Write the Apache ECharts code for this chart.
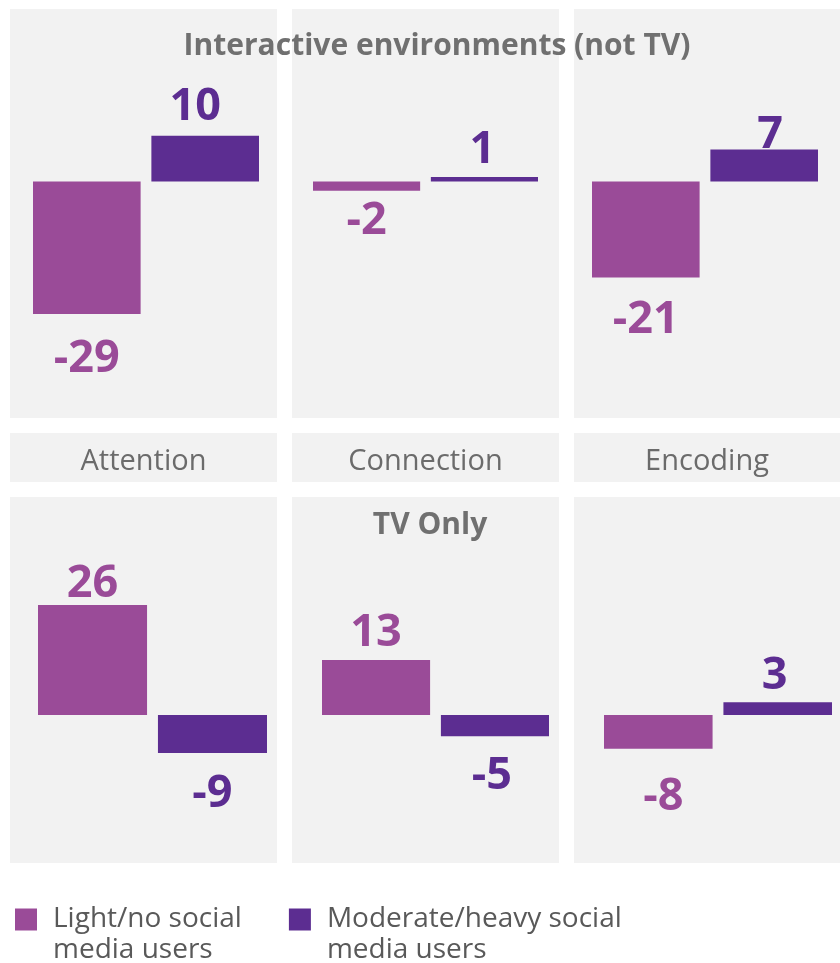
<!DOCTYPE html>
<html>
<head>
<meta charset="utf-8">
<script src="https://cdn.jsdelivr.net/npm/echarts@6/dist/echarts.min.js"></script>
<style>
html,body{margin:0;padding:0;background:#fff;}
#chart{width:840px;height:963px;}
</style>
</head>
<body>
<div id="chart"></div>
<script>
// ---- data ----
const categories = ['Attention', 'Connection', 'Encoding'];
const rowTitles = ['Interactive environments (not TV)', 'TV Only'];
const seriesNames = ['Light/no social media users', 'Moderate/heavy social media users'];
const legendLines = [['Light/no social', 'media users'], ['Moderate/heavy social', 'media users']];
const lightInteractive = [-29, -2, -21];
const moderateInteractive = [10, 1, 7];
const lightTV = [26, 13, -8];
const moderateTV = [-9, -5, 3];

// ---- styling / layout ----
const PINK = '#9a4b98';
const PURPLE = '#5c2d91';
const PANEL = '#f2f2f2';
const FONT = "'Open Sans', 'Noto Sans', sans-serif";
const panelX = [[10, 277], [292, 559], [574, 840]];
const rowY = [[9, 418], [497, 863]];
const stripY = [433, 482];
const yRange = [{ min: -51.75, max: 37.75 }, { min: -34.99, max: 51.54 }];
const gridX = [
  [[33, 226], [313, 225], [592, 226]],
  [[38, 229], [322, 227], [604, 228]]
];
// label nudges [dx, dy] per row / series / column (style only)
const labelNudge = [
  [[[0, 5], [0, -10], [0, 2]], [[-10, -1], [-2, 1], [6, 13]]],
  [[[0, 7], [0, 1], [5, 8]], [[0, 1], [-3, 0], [-3, 1]]]
];
const rowData = [[lightInteractive, moderateInteractive], [lightTV, moderateTV]];
const colors = [PINK, PURPLE];

const grids = [], xAxes = [], yAxes = [], series = [], graphics = [];

// panel backgrounds
for (let r = 0; r < 2; r++) {
  for (let c = 0; c < 3; c++) {
    graphics.push({
      type: 'rect', z: -10, silent: true,
      shape: { x: panelX[c][0], y: rowY[r][0], width: panelX[c][1] - panelX[c][0], height: rowY[r][1] - rowY[r][0] },
      style: { fill: PANEL }
    });
  }
}
// category strip
for (let c = 0; c < 3; c++) {
  graphics.push({
    type: 'rect', z: -10, silent: true,
    shape: { x: panelX[c][0], y: stripY[0], width: panelX[c][1] - panelX[c][0], height: stripY[1] - stripY[0] },
    style: { fill: PANEL }
  });
  graphics.push({
    type: 'text', silent: true,
    x: (panelX[c][0] + panelX[c][1]) / 2, y: 462,
    style: { text: categories[c], fill: '#6b6b6b', font: "29px " + FONT,
      textAlign: 'center', textVerticalAlign: 'middle', align: 'center', verticalAlign: 'middle' }
  });
}
// row titles
graphics.push({
  type: 'text', silent: true, x: 437, y: 46,
  style: { text: rowTitles[0], fill: '#707070', font: "bold 30px " + FONT,
    textAlign: 'center', textVerticalAlign: 'middle', align: 'center', verticalAlign: 'middle' }
});
graphics.push({
  type: 'text', silent: true, x: 430, y: 525,
  style: { text: rowTitles[1], fill: '#707070', font: "bold 30px " + FONT,
    textAlign: 'center', textVerticalAlign: 'middle', align: 'center', verticalAlign: 'middle' }
});

let gi = 0;
for (let r = 0; r < 2; r++) {
  for (let c = 0; c < 3; c++) {
    grids.push({ left: gridX[r][c][0], width: gridX[r][c][1], top: rowY[r][0], height: rowY[r][1] - rowY[r][0], containLabel: false });
    xAxes.push({ type: 'category', gridIndex: gi, data: [categories[c]], show: false });
    yAxes.push({ type: 'value', gridIndex: gi, min: yRange[r].min, max: yRange[r].max, show: false, splitLine: { show: false } });
    for (let s = 0; s < 2; s++) {
      const v = rowData[r][s][c];
      series.push({
        type: 'bar', name: seriesNames[s], xAxisIndex: gi, yAxisIndex: gi,
        barCategoryGap: '0%', barGap: '10%',
        itemStyle: { color: colors[s] },
        label: {
          show: true, color: colors[s], fontFamily: FONT, fontWeight: 'bold', fontSize: 45,
          position: v >= 0 ? 'top' : 'bottom', distance: v >= 0 ? 5 : 18,
          offset: labelNudge[r][s][c]
        },
        data: [v]
      });
    }
    gi++;
  }
}

const chart = echarts.init(document.getElementById('chart'), null, { renderer: 'canvas' });
chart.setOption({
  animation: false,
  backgroundColor: '#ffffff',
  color: colors,
  graphic: graphics,
  grid: grids,
  xAxis: xAxes,
  yAxis: yAxes,
  legend: {
    data: seriesNames,
    left: 15, top: 873, padding: 0,
    icon: 'rect', itemWidth: 22, itemHeight: 22, itemGap: 47,
    formatter: function (name) {
      const lines = legendLines[seriesNames.indexOf(name)];
      return '{p|}\n{p|}' + lines[0] + '\n{p|}' + lines[1];
    },
    textStyle: {
      fontFamily: FONT, fontSize: 28, lineHeight: 31, color: '#595959',
      rich: { p: { width: 11, fontSize: 28, lineHeight: 31 } }
    },
    itemStyle: { borderWidth: 0 }
  },
  series: series
});
</script>
</body>
</html>
